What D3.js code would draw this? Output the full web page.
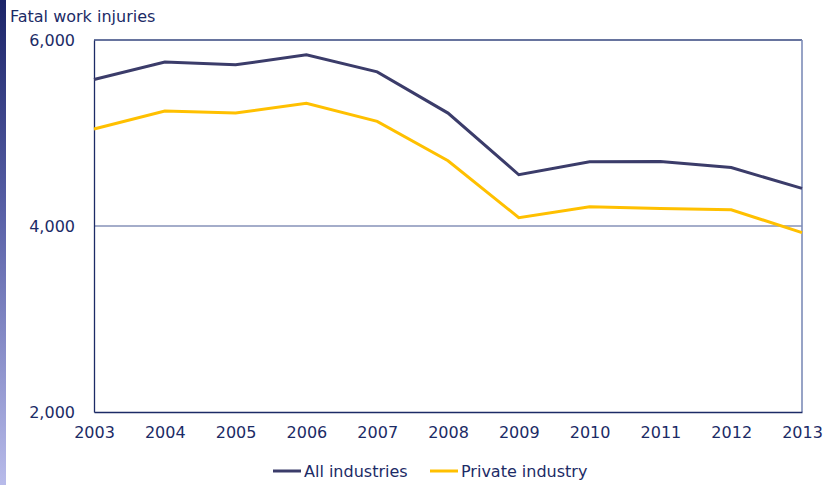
<!DOCTYPE html>
<html>
<head>
<meta charset="utf-8">
<script src="https://cdn.jsdelivr.net/npm/d3@7"></script>
<style>
  body { margin: 0; background: #fff; }
  svg text { font-family: "DejaVu Sans", Verdana, sans-serif; fill: #1c2b66; }
</style>
</head>
<body>
<div id="chart"></div>
<script>
// Fatal work injuries, 2003-2013
var years = [2003, 2004, 2005, 2006, 2007, 2008, 2009, 2010, 2011, 2012, 2013];
var allIndustries = [5575, 5764, 5734, 5840, 5657, 5214, 4551, 4690, 4693, 4628, 4405];
var privateIndustry = [5043, 5237, 5214, 5320, 5125, 4702, 4090, 4206, 4188, 4175, 3929];
var yTicks = [2000, 4000, 6000];
var seriesNames = ["All industries", "Private industry"];
var seriesColors = ["#3b3c6a", "#ffc000"];

var W = 825, H = 485;
var margin = {top: 40, right: 23, bottom: 73, left: 94},
  width = W - margin.left - margin.right,
  height = H - margin.top - margin.bottom;

var svg = d3.select("#chart")
  .append("svg")
    .attr("width", W)
    .attr("height", H);

// left accent bar
var grad = svg.append("defs").append("linearGradient")
  .attr("id", "sidebar").attr("x1", 0).attr("y1", 0).attr("x2", 0).attr("y2", 1);
grad.append("stop").attr("offset", "0%").attr("stop-color", "#1b2468");
grad.append("stop").attr("offset", "45%").attr("stop-color", "#5a62a8");
grad.append("stop").attr("offset", "100%").attr("stop-color", "#b8bbea");
svg.append("rect")
  .attr("x", 0).attr("y", 0).attr("width", 6).attr("height", H)
  .attr("fill", "url(#sidebar)");

svg.append("text")
  .attr("x", 10).attr("y", 22)
  .style("font-size", "16px")
  .text("Fatal work injuries");

var g = svg.append("g")
  .attr("transform", "translate(" + margin.left + "," + margin.top + ")");

var x = d3.scaleLinear().domain([2003, 2013]).range([0, width]);
var y = d3.scaleLinear().domain([2000, 6000]).range([height, 0]);

// gridline at 4,000
g.append("line")
  .attr("x1", 0).attr("x2", width)
  .attr("y1", y(4000)).attr("y2", y(4000))
  .attr("stroke", "#4a5d96").attr("stroke-width", 1.2);

// frame
g.append("line").attr("x1", 0).attr("x2", width).attr("y1", 0).attr("y2", 0)
  .attr("stroke", "#34467e").attr("stroke-width", 1.3);
g.append("line").attr("x1", width).attr("x2", width).attr("y1", 0).attr("y2", height)
  .attr("stroke", "#7d8cb8").attr("stroke-width", 1.6);

// axes
var yAxis = g.append("g")
  .call(d3.axisLeft(y).tickValues(yTicks).tickSize(0).tickPadding(19).tickFormat(d3.format(",")));
yAxis.select(".domain").attr("stroke", "#1c2b66").attr("stroke-width", 1.3);
yAxis.selectAll("text").style("font-size", "16px").attr("fill", "#1c2b66");

var xAxis = g.append("g")
  .attr("transform", "translate(0," + height + ")")
  .call(d3.axisBottom(x).tickValues(years).tickSize(0).tickPadding(15).tickFormat(d3.format("d")));
xAxis.select(".domain").attr("stroke", "#1c2b66").attr("stroke-width", 1.3);
xAxis.selectAll("text").style("font-size", "16px").attr("fill", "#1c2b66");

var line = d3.line()
  .x(function(d, i) { return x(years[i]); })
  .y(function(d) { return y(d); });

[allIndustries, privateIndustry].forEach(function(s, k) {
  g.append("path")
    .datum(s)
    .attr("fill", "none")
    .attr("stroke", seriesColors[k])
    .attr("stroke-width", 3)
    .attr("stroke-linejoin", "miter")
    .attr("d", line);
});

// legend
var legendX = [273, 430];
var legend = svg.append("g");
seriesNames.forEach(function(name, k) {
  legend.append("line")
    .attr("x1", legendX[k]).attr("x2", legendX[k] + 28)
    .attr("y1", 471).attr("y2", 471)
    .attr("stroke", seriesColors[k]).attr("stroke-width", 3);
  legend.append("text")
    .attr("x", legendX[k] + 31).attr("y", 477)
    .style("font-size", "16px")
    .text(name);
});
</script>
</body>
</html>
